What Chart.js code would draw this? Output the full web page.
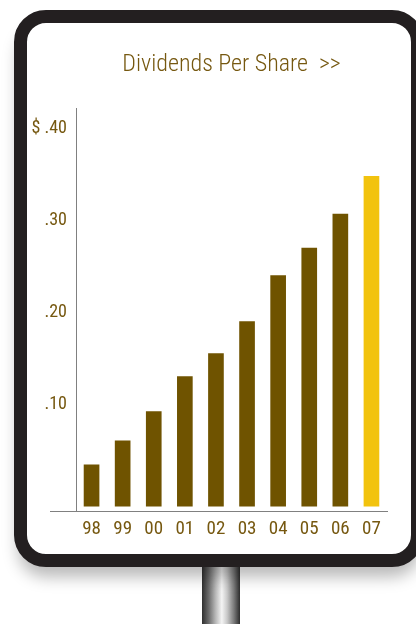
<!DOCTYPE html>
<html>
<head>
<meta charset="utf-8">
<script src="https://cdn.jsdelivr.net/npm/chart.js@4"></script>
<style>
  html, body { margin: 0; padding: 0; background: #fff; }
  body { width: 416px; height: 624px; position: relative; overflow: hidden; }
  .pole {
    position: absolute; left: 202px; top: 560px; width: 38px; height: 64px;
    background: linear-gradient(to right, #2f2f2f 0%, #6d6d6d 18%, #b9b9b9 36%, #f4f4f4 52%, #c9c9c9 66%, #7a7a7a 84%, #2c2c2c 100%);
  }
  .frame {
    position: absolute; left: 14px; top: 10px; width: 384px; height: 531px;
    border: 13px solid #231f20; border-radius: 32px; background: #fff;
    box-shadow: 0 14px 16px -4px rgba(0,0,0,0.28);
  }
  #chart { position: absolute; left: 0; top: 0; }
</style>
</head>
<body>
<div class="pole"></div>
<div class="frame"></div>
<canvas id="chart" width="416" height="624"></canvas>
<script>
const years = ['98', '99', '00', '01', '02', '03', '04', '05', '06', '07'];
const dividends = [0.034, 0.060, 0.092, 0.130, 0.155, 0.190, 0.240, 0.270, 0.307, 0.348];
const tickValues = [0.1, 0.2, 0.3, 0.4];
const tickLabels = ['.10', '.20', '.30', '$ .40'];

const brown = '#6f5300';
const gold = '#f2c30e';
const textColor = '#765810';
const axisColor = '#808080';
const font = "'Roboto Condensed', 'DejaVu Sans Condensed', sans-serif";

// x axis line runs a little left of the y axis
const axisExtension = {
    id: 'axisExtension',
    afterDraw(chart) {
        const { ctx, chartArea } = chart;
        ctx.save();
        ctx.strokeStyle = axisColor;
        ctx.lineWidth = 1;
        ctx.beginPath();
        ctx.moveTo(50, chartArea.bottom + 0.5);
        ctx.lineTo(chartArea.left, chartArea.bottom + 0.5);
        ctx.stroke();
        ctx.restore();
    }
};

new Chart(document.getElementById('chart').getContext('2d'), {
    type: 'bar',
    data: {
        labels: years,
        datasets: [{
            data: dividends,
            base: -0.011,
            backgroundColor: years.map((y, i) => i === years.length - 1 ? gold : brown),
            barThickness: 15,
        }],
    },
    plugins: [axisExtension],
    options: {
        responsive: false,
        animation: false,
        layout: { padding: { left: 0, right: 29, top: 0, bottom: 73 } },
        plugins: {
            legend: { display: false },
            tooltip: { enabled: false },
            title: {
                display: true,
                text: 'Dividends Per Share  >>',
                color: textColor,
                fullSize: false,
                font: { family: font, size: 24, weight: 300 },
                padding: { top: 51, bottom: 29 },
            },
        },
        scales: {
            x: {
                grid: { display: true, drawOnChartArea: false, drawTicks: false },
                border: { display: true, color: axisColor, width: 1 },
                ticks: { color: textColor, font: { family: font, size: 19 }, padding: 7 },
                afterFit(scale) { scale.height = 40; },
            },
            y: {
                min: -0.0163,
                max: 0.4216,
                grid: { display: true, drawOnChartArea: false, drawTicks: false },
                border: { display: true, color: axisColor, width: 1 },
                afterBuildTicks(scale) { scale.ticks = tickValues.map(v => ({ value: v })); },
                ticks: {
                    color: textColor,
                    font: { family: font, size: 18 },
                    padding: 9,
                    callback: (v) => tickLabels[tickValues.indexOf(v)],
                },
                afterFit(scale) { scale.width = 76; },
            },
        },
    },
});
</script>
</body>
</html>
